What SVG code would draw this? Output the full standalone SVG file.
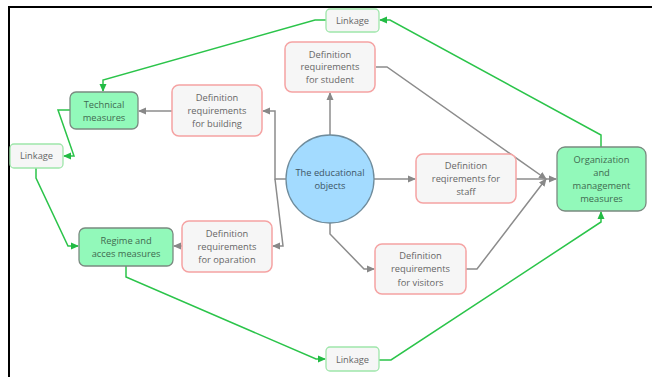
<svg xmlns="http://www.w3.org/2000/svg" width="652" height="377" viewBox="0 0 652 377">
<defs>
<marker id="ag" viewBox="0 0 8 8" refX="7" refY="4" markerWidth="8" markerHeight="8" markerUnits="userSpaceOnUse" orient="auto"><path d="M0,0.5 L8,4 L0,7.5 Z" fill="#888"/></marker>
<marker id="an" viewBox="0 0 8 8" refX="7" refY="4" markerWidth="8" markerHeight="8" markerUnits="userSpaceOnUse" orient="auto"><path d="M0,0.5 L8,4 L0,7.5 Z" fill="#22bb44"/></marker>
<style>
text{font-family:"Open Sans","Noto Sans","DejaVu Sans",sans-serif;font-size:9.3px;text-anchor:middle}
.def rect{fill:#f6f6f6;stroke:#f5a3a3;stroke-width:1.5}
.def text{fill:#666}
.grn rect{fill:#92f9ba;stroke:#7a8a80;stroke-width:1.3}
.grn text{fill:#3f6a50}
.lnk rect{fill:#f6f6f6;stroke:#9ee6aa;stroke-width:1.3}
.lnk text{fill:#666}
.g{fill:none;stroke:#8c8c8c;stroke-width:1.5;marker-end:url(#ag)}
.n{fill:none;stroke:#2bc44a;stroke-width:1.5;marker-end:url(#an)}
</style>
</defs>
<rect width="652" height="377" fill="#fff"/>
<path d="M9,377 L9,7 L652,7" fill="none" stroke="#000" stroke-width="2"/>
<g id="connectors">
<path class="g" d="M330,135 L330,93"/>
<path class="g" d="M374,179 L415,179"/>
<path class="g" d="M330,223 L330,234 L364,269 L374,269"/>
<path class="g" d="M286,179 L275,179 L275,111 L263,111"/>
<path class="g" d="M275,179 L283,246 L273,246"/>
<path class="g" d="M172,111 L139,111"/>
<path class="g" d="M182,246 L174,246"/>
<path class="g" d="M376,67 L387,67 L546,179"/>
<path class="g" d="M466,269 L477,269 L546,179"/>
<path class="g" d="M516,179 L556,179"/>
<path class="n" d="M326,20 L315,20 L103,80 L103,91"/>
<path class="n" d="M601,147 L601,135 L390,20 L380,20"/>
<path class="n" d="M70,110 L58,110 L74,156 L64,156"/>
<path class="n" d="M36,168 L36,178 L68,246 L78,246"/>
<path class="n" d="M126,266 L126,277 L316,359 L325,359"/>
<path class="n" d="M379,360 L391,360 L601,222 L601,212"/>
</g>
<g id="linkage-top" class="lnk"><rect x="326" y="9" width="53" height="23" rx="4"/><text x="352.5" y="23.8">Linkage</text></g>
<g id="linkage-left" class="lnk"><rect x="10" y="144" width="53" height="24" rx="4"/><text x="36.5" y="159.2">Linkage</text></g>
<g id="linkage-bottom" class="lnk"><rect x="326" y="347" width="53" height="24" rx="4"/><text x="352.5" y="363.2">Linkage</text></g>
<g id="technical" class="grn"><rect x="70" y="92" width="68" height="37" rx="6"/><text x="104" y="108">Technical</text><text x="104" y="121">measures</text></g>
<g id="regime" class="grn"><rect x="79" y="228" width="94" height="38" rx="6"/><text x="126" y="243.5">Regime and</text><text x="126" y="256.5">acces measures</text></g>
<g id="organization" class="grn"><rect x="557" y="147" width="89" height="64" rx="8"/><text x="601.5" y="162.5">Organization</text><text x="601.5" y="175.5">and</text><text x="601.5" y="188.5">management</text><text x="601.5" y="201.8">measures</text></g>
<g id="building" class="def"><rect x="172" y="85" width="90" height="51" rx="7"/><text x="217" y="101">Definition</text><text x="217" y="114">requirements</text><text x="217" y="127.3">for building</text></g>
<g id="student" class="def"><rect x="285" y="42" width="90" height="50" rx="7"/><text x="330" y="57.5">Definition</text><text x="330" y="70.3">requirements</text><text x="330" y="83.3">for student</text></g>
<g id="staff" class="def"><rect x="416" y="154" width="100" height="49" rx="7"/><text x="466" y="168.5">Definition</text><text x="466" y="182">reqirements for</text><text x="466" y="195">staff</text></g>
<g id="visitors" class="def"><rect x="375" y="244" width="91" height="50" rx="7"/><text x="420.5" y="259.3">Definition</text><text x="420.5" y="272.3">requirements</text><text x="420.5" y="285.5">for visitors</text></g>
<g id="operation" class="def"><rect x="182" y="221" width="90" height="51" rx="7"/><text x="227" y="237">Definition</text><text x="227" y="250">requirements</text><text x="227" y="263">for oparation</text></g>
<g id="educational"><circle cx="330" cy="179" r="44" fill="#a3dbff" stroke="#6f8c9c" stroke-width="1.3"/><text x="330" y="175.5" fill="#3d5566">The educational</text><text x="330" y="189" fill="#3d5566">objects</text></g>
</svg>
